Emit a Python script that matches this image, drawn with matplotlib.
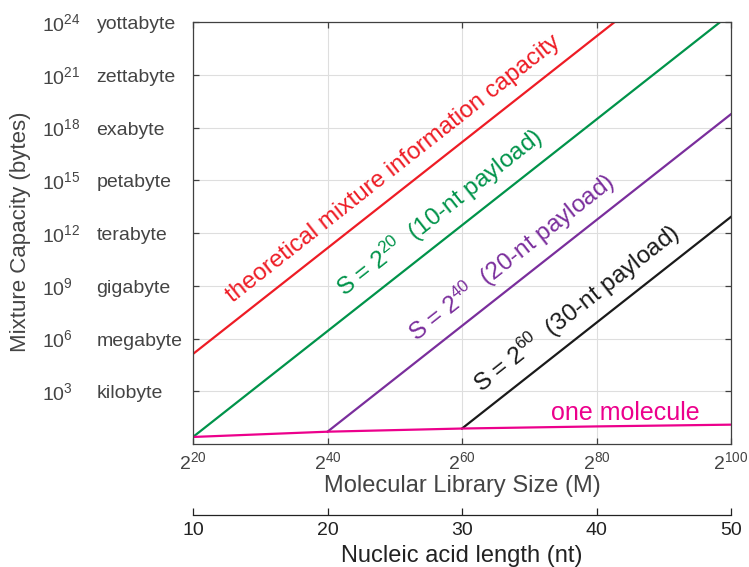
import numpy as np
import matplotlib
matplotlib.use("Agg")
import matplotlib.pyplot as plt
from matplotlib import transforms

plt.rcParams['font.family'] = ['Liberation Sans', 'DejaVu Sans']
plt.rcParams['mathtext.fontset'] = 'custom'
plt.rcParams['mathtext.rm'] = 'Liberation Sans'
plt.rcParams['mathtext.it'] = 'Liberation Sans'
plt.rcParams['mathtext.default'] = 'regular'

#%% data (x = log2 library size, y = log10 bytes)
theory_x = [20, 82.7]
theory_y = [5.12, 24.0]
s20_x = [20, 98.4]
s20_y = [0.40, 24.0]
s40_x = [40, 100]
s40_y = [0.70, 18.76]
s60_x = [60, 100]
s60_y = [0.88, 12.92]
one_x = [20, 40, 60, 80, 100]
one_y = [0.40, 0.70, 0.88, 1.00, 1.10]

x_ticks = [20, 40, 60, 80, 100]
y_ticks = [3, 6, 9, 12, 15, 18, 21, 24]
y_names = ['kilobyte', 'megabyte', 'gigabyte', 'terabyte', 'petabyte',
           'exabyte', 'zettabyte', 'yottabyte']
nt_ticks = [10, 20, 30, 40, 50]

# label text, start point (x, y), colour, size
labels = [
    ('theoretical mixture information capacity', 25.9, 8.02, '#ee1c25', 17.4),
    ('S = 2$^{20}$  (10-nt payload)', 42.6, 8.33, '#00934a', 17.5),
    ('S = 2$^{40}$  (20-nt payload)', 53.2, 5.77, '#7a2e9c', 17.5),
    ('S = 2$^{60}$  (30-nt payload)', 62.9, 2.88, '#1a1a1a', 17.5),
]

#%% figure
fig = plt.figure(figsize=(7.49, 5.67), dpi=100)
ax = fig.add_axes([193/749, 1-444/567, 538/749, 422/567])
ax.set_xlim(20, 100)
ax.set_ylim(0, 24)

spine_col = '#404040'
for s in ax.spines.values():
    s.set_color(spine_col)
    s.set_linewidth(0.9)

ax.set_xticks(x_ticks)
ax.set_xticklabels(['2$^{%d}$' % v for v in x_ticks])
ax.set_yticks(y_ticks)
ax.set_yticklabels([])
ax.tick_params(direction='in', length=4, width=0.9, color=spine_col,
               top=True, right=True, labelsize=14, labelcolor='#444444', pad=5)
ax.grid(True, color='#dedede', linewidth=0.8)
ax.set_axisbelow(True)

lw = 1.6
ax.plot(theory_x, theory_y, color='#ee1c25', lw=lw)
ax.plot(s20_x, s20_y, color='#00934a', lw=lw)
ax.plot(s40_x, s40_y, color='#7a2e9c', lw=lw)
ax.plot(s60_x, s60_y, color='#1a1a1a', lw=lw)
ax.plot(one_x, one_y, color='#ec008c', lw=lw)

# rotation of the diagonal lines on screen
p0 = ax.transData.transform((theory_x[0], theory_y[0]))
p1 = ax.transData.transform((theory_x[1], theory_y[1]))
angle = np.degrees(np.arctan2(p1[1]-p0[1], p1[0]-p0[0]))

for txt, x0, y0, col, fs in labels:
    ax.text(x0, y0, txt, color=col, fontsize=fs, rotation=angle,
            rotation_mode='anchor', ha='left', va='baseline')
ax.text(73.2, 1.35, 'one molecule', color='#ec008c', fontsize=18,
        ha='left', va='baseline')

# y tick texts (power + name)
blend = transforms.blended_transform_factory(fig.transFigure, ax.transData)
num_tr = transforms.offset_copy(blend, fig=fig, y=-6.5, units='points')
name_tr = transforms.offset_copy(blend, fig=fig, y=-5.2, units='points')
for yv, nm in zip(y_ticks, y_names):
    fig.text(41.5/749, yv, '10$^{%d}$' % yv, transform=num_tr, fontsize=14,
             color='#444444', ha='left', va='baseline')
    fig.text(96.5/749, yv, nm, transform=name_tr, fontsize=14,
             color='#444444', ha='left', va='baseline')

fig.text(21/749, 1-231.5/567, 'Mixture Capacity (bytes)', rotation=90,
         fontsize=16, color='#444444', ha='center', va='center')
fig.text(462/749, 1-492/567, 'Molecular Library Size (M)', fontsize=17,
         color='#444444', ha='center', va='baseline')

#%% secondary axis: nucleic acid length
ax2 = fig.add_axes([193/749, 1-515/567, 538/749, 0.0001])
ax2.set_xlim(nt_ticks[0], nt_ticks[-1])
ax2.set_yticks([])
for side in ['top', 'left', 'right']:
    ax2.spines[side].set_visible(False)
ax2.spines['bottom'].set_color('#222222')
ax2.spines['bottom'].set_linewidth(0.9)
ax2.set_xticks(nt_ticks)
ax2.tick_params(axis='x', direction='in', length=5, width=0.9,
                color='#222222', labelsize=14, labelcolor='#222222', pad=5)
ax2.patch.set_visible(False)
fig.text(462/749, 1-562/567, 'Nucleic acid length (nt)', fontsize=17,
         color='#222222', ha='center', va='baseline')

fig.savefig('out.png', dpi=100)
